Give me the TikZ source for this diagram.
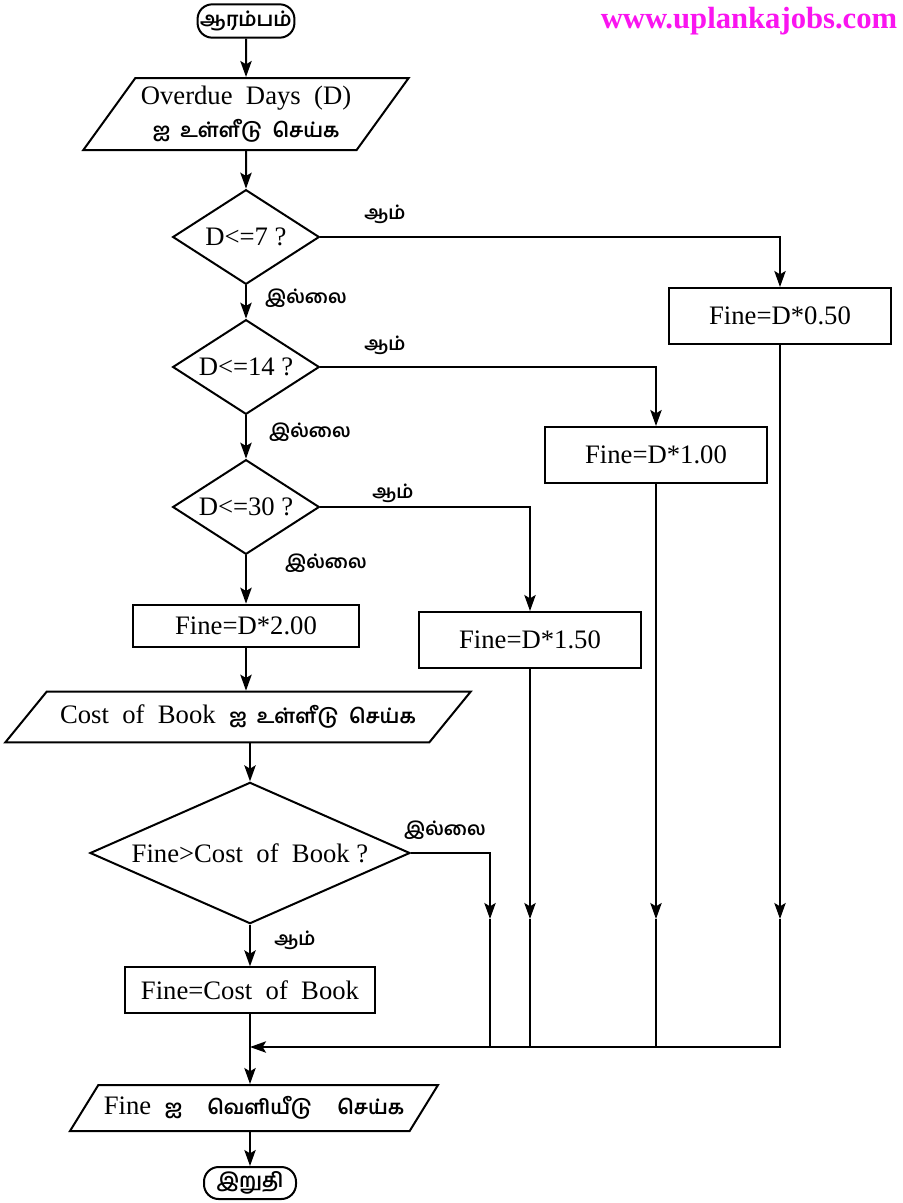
\documentclass[tikz,border=0pt]{standalone}
\usepackage{fontspec}
\setmainfont{Liberation Serif}
\newfontfamily\tamil[Script=Tamil]{Hind Madurai}
\usetikzlibrary{shapes.geometric,arrows.meta}
\definecolor{urlpink}{RGB}{250,20,240}
\tikzset{
	base/.style={draw,line width=1.5pt,font=\fontsize{20}{25}\selectfont,inner sep=2pt},
	term/.style={base,rounded corners=11pt,minimum width=70pt,minimum height=25pt,font=\tamil\bfseries\fontsize{15}{18}\selectfont},
	io/.style={base,trapezium,trapezium stretches body=true},
	dec/.style={base,diamond,aspect=1.5,inner sep=0pt},
	proc/.style={base,rectangle,minimum width=167pt,minimum height=42pt},
	lbl/.style={font=\tamil\bfseries\fontsize{14}{16}\selectfont},
	arr/.style={line width=1.5pt,-{Stealth[length=12pt,width=8.5pt,inset=2.5pt]}},
	ln/.style={line width=1.5pt}
}
\newcommand{\tm}[1]{{\tamil\bfseries\fontsize{15}{18}\selectfont #1}}

\begin{document}
\begin{tikzpicture}[x=0.75pt,y=-0.75pt]
	\useasboundingbox (0,0) rectangle (903,1203);
	\node[font=\bfseries\fontsize{23}{26}\selectfont,text=urlpink] (url) at (749,21) {www.uplankajobs.com};
	% main column
	\node[term] (start) at (246,21) {ஆரம்பம்};
	\node[io,trapezium left angle=50,trapezium right angle=130,minimum width=244pt,minimum height=54pt,align=center] (in1) at (246,114) {Overdue \ Days \ (D)\\\tm{ஐ \ உள்ளீடு \ செய்க}};
	\node[dec,minimum width=110pt,minimum height=71pt] (d1) at (246,237) {D<=7 ?};
	\node[dec,minimum width=110pt,minimum height=71pt] (d2) at (246,367) {D<=14 ?};
	\node[dec,minimum width=110pt,minimum height=71pt] (d3) at (246,507) {D<=30 ?};
	\node[proc,minimum width=170pt,minimum height=32pt] (b200) at (246,626) {Fine=D*2.00};
	\node[io,trapezium left angle=35,trapezium right angle=145,minimum width=349pt,minimum height=38pt] (in2) at (238,717) {Cost \ of \ Book \ \tm{ஐ \ உள்ளீடு \ செய்க}};
	\node[dec,aspect=2.2,minimum width=240pt,minimum height=106pt] (d4) at (250,853) {Fine>Cost \ of \ Book ?};
	\node[proc,minimum width=187pt,minimum height=34pt] (bcost) at (250,990) {Fine=Cost \ of \ Book};
	\node[io,trapezium left angle=45,trapezium right angle=135,minimum width=276pt,minimum height=34.5pt] (out) at (254,1108) {Fine \ \tm{ஐ \quad வெளியீடு \quad செய்க}};
	\node[term,minimum width=69pt,minimum height=24pt] (end) at (250,1183) {இறுதி};
	% fine boxes on the right
	\node[proc] (b050) at (780,316) {Fine=D*0.50};
	\node[proc] (b100) at (656,455) {Fine=D*1.00};
	\node[proc] (b150) at (530,640) {Fine=D*1.50};
	% labels
	\node[lbl] (y1) at (385,214) {ஆம்};
	\node[lbl] (n1) at (306,298) {இல்லை};
	\node[lbl] (y2) at (385,345) {ஆம்};
	\node[lbl] (n2) at (310,432) {இல்லை};
	\node[lbl] (y3) at (393,493) {ஆம்};
	\node[lbl] (n3) at (326,563) {இல்லை};
	\node[lbl] (n4) at (445,830) {இல்லை};
	\node[lbl] (y4) at (295,940) {ஆம்};
	\coordinate (mid) at (0,919);
	\coordinate (join) at (0,1047);
	\coordinate (nojog) at (490,853);
	% connectors
	\draw[arr] (start) -- (in1);
	\draw[arr] (in1) -- (d1);
	\draw[arr] (d1) -- (d2);
	\draw[arr] (d2) -- (d3);
	\draw[arr] (d3) -- (b200);
	\draw[arr] (b200) -- (b200 |- in2.north);
	\draw[arr] (d4.north |- in2.south) -- (d4);
	\draw[arr] (d4) -- (bcost);
	\draw[arr] (bcost) -- (bcost |- out.north);
	\draw[arr] (out.south -| end) -- (end);
	\draw[arr] (d1.east) -| (b050);
	\draw[arr] (d2.east) -| (b100);
	\draw[arr] (d3.east) -| (b150);
	\draw[arr] (d4.east) -- (d4.east -| nojog) -- (nojog |- mid);
	\draw[arr] (b150) -- (b150 |- mid);
	\draw[arr] (b100) -- (b100 |- mid);
	\draw[arr] (b050) -- (b050 |- mid);
	\draw[ln] (nojog |- mid) -- (nojog |- join);
	\draw[ln] (b150 |- mid) -- (b150 |- join);
	\draw[ln] (b100 |- mid) -- (b100 |- join);
	\draw[arr] (b050 |- mid) -- (b050 |- join) -- (bcost |- join);
\end{tikzpicture}
\end{document}
